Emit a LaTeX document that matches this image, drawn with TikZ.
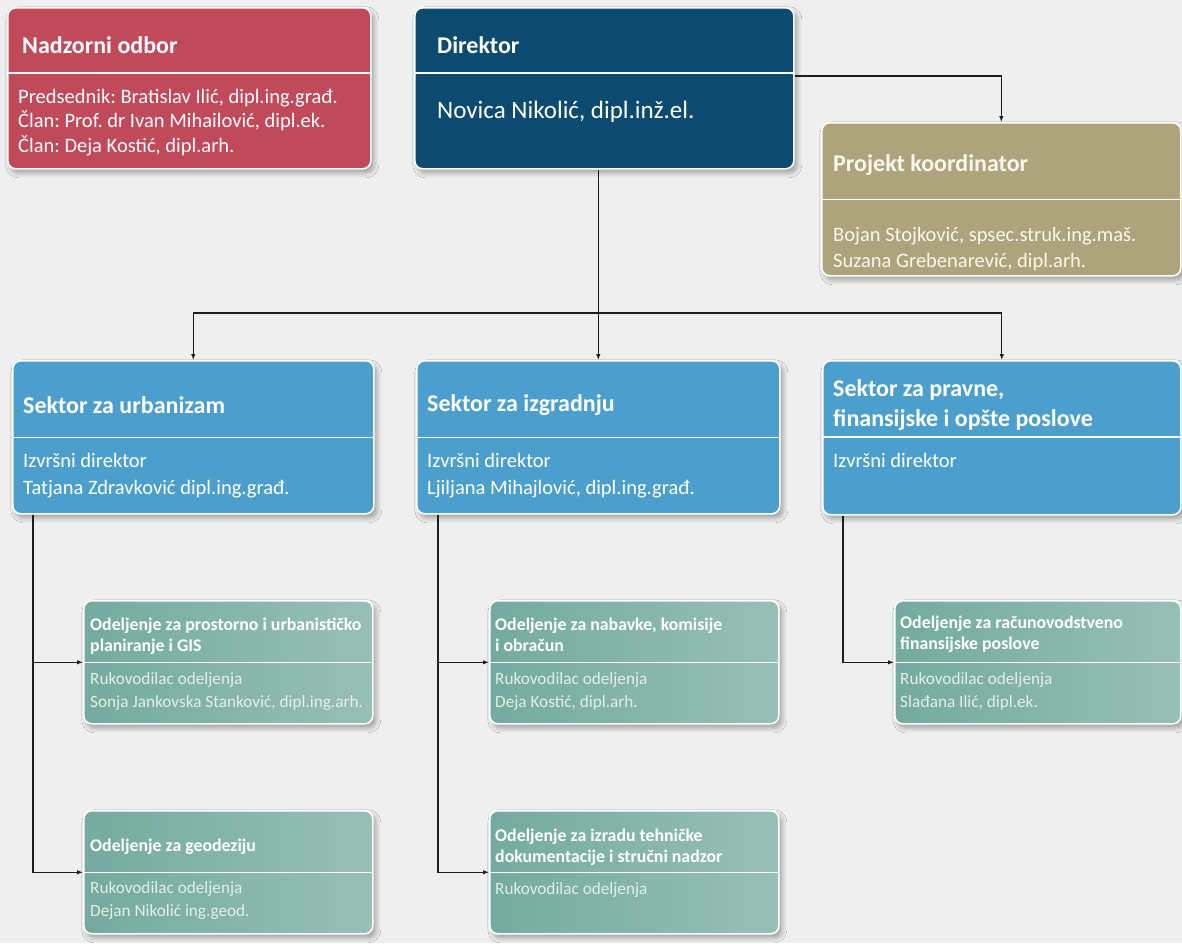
\documentclass[tikz,border=0pt]{standalone}
\usepackage{fontspec}
\setmainfont{Carlito}
\frenchspacing
\usetikzlibrary{shadows,shadows.blur,arrows.meta,calc}
\definecolor{bg}{HTML}{EFEFEF}
\definecolor{redbox}{HTML}{C0495A}
\definecolor{dirblue}{HTML}{0C4A70}
\definecolor{khaki}{HTML}{ADA47E}
\definecolor{secblue}{HTML}{4C9FCD}
\definecolor{tealL}{HTML}{74AB9E}
\definecolor{tealR}{HTML}{98BFB6}
\definecolor{linec}{HTML}{1E1E1E}
\definecolor{depttxt}{HTML}{E2EEEA}
\definecolor{cream}{HTML}{FBF7EA}
\begin{document}
\begin{tikzpicture}[x=1pt,y=-1pt,
  box/.style={draw=white, line width=1.6pt, rounded corners=8pt, inner sep=0pt, anchor=north west,
    blur shadow={shadow xshift=3pt, shadow yshift=-4pt, shadow blur radius=5pt, shadow blur steps=8, shadow opacity=35}},
  deptbox/.style={box, left color=tealL, right color=tealR},
  ttl/.style={font=\fontsize{24}{30}\selectfont\bfseries, text=white, anchor=west, align=left, inner sep=0pt},
  txt/.style={font=\fontsize{20.5}{24.5}\selectfont, text=white, anchor=west, align=left, inner sep=0pt},
  dttl/.style={font=\fontsize{17.8}{20.5}\selectfont\bfseries, text=white, anchor=west, align=left, inner sep=0pt},
  dtxt/.style={font=\fontsize{17.2}{23}\selectfont, text=depttxt, anchor=west, align=left, inner sep=0pt},
  divider/.style={draw=white, line width=1.3pt},
  conn/.style={draw=linec, line width=1.1pt},
  arr/.style={conn, -{Latex[length=6pt,width=4.5pt]}}
]
\fill[bg] (0,0) rectangle (1182,943);
\useasboundingbox (0,0) rectangle (1182,943);

% ---- top row
\node[box, fill=redbox, minimum width=363pt, minimum height=161pt] (nad) at (7,7) {};
\draw[divider] (nad.west |- 0,73) -- (nad.east |- 0,73);
\node[ttl] (nadT) at (22,45) {Nadzorni odbor};
\node[txt] (nadB) at (18,122.5) {Predsednik: Bratislav Ilić, dipl.ing.građ.\\Član: Prof. dr Ivan Mihailović, dipl.ek.\\Član: Deja Kostić, dipl.arh.};

\node[box, fill=dirblue, minimum width=379pt, minimum height=161pt] (dir) at (414,7) {};
\draw[divider] (dir.west |- 0,73) -- (dir.east |- 0,73);
\node[ttl] (dirT) at (437,45) {Direktor};
\node[txt, font=\fontsize{25}{30}\selectfont] (dirB) at (437,112) {Novica Nikolić, dipl.inž.el.};

\node[box, fill=khaki, minimum width=359pt, minimum height=153pt] (pk) at (821,122) {};
\draw[divider] (pk.west) -- (pk.east);
\node[ttl, text=cream] (pkT) at (833,165) {Projekt koordinator};
\node[txt, text=cream, font=\fontsize{20.5}{26}\selectfont] (pkB) at (833,249.5) {Bojan Stojković, spsec.struk.ing.maš.\\Suzana Grebenarević, dipl.arh.};

% ---- sectors
\node[box, fill=secblue, minimum width=361pt, minimum height=153pt] (s1) at (12,360) {};
\draw[divider] (s1.west) -- (s1.east);
\node[ttl] (s1T) at (23,405) {Sektor za urbanizam};
\node[txt, font=\fontsize{20.5}{27}\selectfont] (s1B) at (23,476) {Izvršni direktor\\Tatjana Zdravković dipl.ing.građ.};

\node[box, fill=secblue, minimum width=363pt, minimum height=153pt] (s2) at (416,360) {};
\draw[divider] (s2.west) -- (s2.east);
\node[ttl] (s2T) at (427,405) {Sektor za izgradnju};
\node[txt, font=\fontsize{20.5}{27}\selectfont] (s2B) at (427,476) {Izvršni direktor\\Ljiljana Mihajlović, dipl.ing.građ.};

\node[box, fill=secblue, minimum width=358pt, minimum height=154pt] (s3) at (822,360) {};
\draw[divider] (s3.west |- 0,437) -- (s3.east |- 0,437);
\node[ttl] (s3T) at (833,405) {Sektor za pravne,\\finansijske i opšte poslove};
\node[txt] (s3B) at (833,460) {Izvršni direktor};

% ---- departments
\node[deptbox, minimum width=289pt, minimum height=123pt] (d1) at (83,600) {};
\draw[divider] (d1.west) -- (d1.east);
\node[dttl] (d1T) at (90,636) {Odeljenje za prostorno i urbanističko\\planiranje i GIS};
\node[dtxt] (d1B) at (90,691) {Rukovodilac odeljenja\\Sonja Jankovska Stanković, dipl.ing.arh.};

\node[deptbox, minimum width=289pt, minimum height=123pt] (d2) at (83,810) {};
\draw[divider] (d2.west) -- (d2.east);
\node[dttl] (d2T) at (90,847) {Odeljenje za geodeziju};
\node[dtxt] (d2B) at (90,900) {Rukovodilac odeljenja\\Dejan Nikolić ing.geod.};

\node[deptbox, minimum width=289pt, minimum height=123pt] (d3) at (489,600) {};
\draw[divider] (d3.west) -- (d3.east);
\node[dttl] (d3T) at (495,635) {Odeljenje za nabavke, komisije\\i obračun};
\node[dtxt] (d3B) at (495,691) {Rukovodilac odeljenja\\Deja Kostić, dipl.arh.};

\node[deptbox, minimum width=289pt, minimum height=123pt] (d4) at (489,810) {};
\draw[divider] (d4.west) -- (d4.east);
\node[dttl] (d4T) at (495,847) {Odeljenje za izradu tehničke\\dokumentacije i stručni nadzor};
\node[dtxt] (d4B) at (495,890) {Rukovodilac odeljenja};

\node[deptbox, minimum width=286pt, minimum height=123pt] (d5) at (894,600) {};
\draw[divider] (d5.west) -- (d5.east);
\node[dttl] (d5T) at (900,634) {Odeljenje za računovodstveno\\finansijske poslove};
\node[dtxt] (d5B) at (900,691) {Rukovodilac odeljenja\\Slađana Ilić, dipl.ek.};

% ---- connectors
\coordinate (hub) at (597.5,313);
\draw[arr] (dir.east |- 0,76) -| (pk.north);
\draw[arr] (dir.south -| s2.north) -- (s2.north);
\draw[conn] (hub -| s1.north) -- (hub -| s3.north);
\draw[arr] (hub -| s1.north) -- (s1.north);
\draw[arr] (hub -| s3.north) -- (s3.north);

\coordinate (v1) at ([xshift=21pt]s1.south west);
\draw[arr] (v1) |- (d1.west);
\draw[arr] (v1) |- (d2.west);
\coordinate (v2) at ([xshift=22pt]s2.south west);
\draw[arr] (v2) |- (d3.west);
\draw[arr] (v2) |- (d4.west);
\coordinate (v3) at ([xshift=21pt]s3.south west);
\draw[arr] (v3) |- (d5.west);
\end{tikzpicture}
\end{document}
